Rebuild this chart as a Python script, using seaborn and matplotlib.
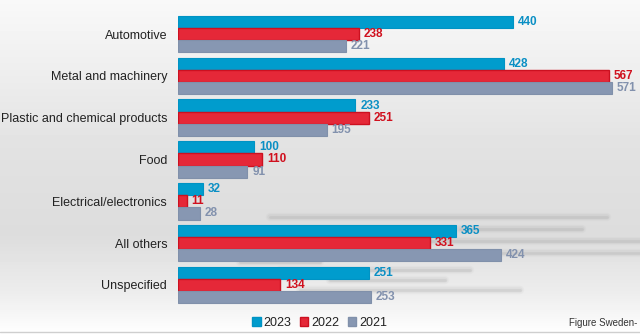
import numpy as np
import pandas as pd
import matplotlib
matplotlib.use("Agg")
import matplotlib.pyplot as plt
from matplotlib.patches import Patch
from matplotlib.lines import Line2D
from matplotlib import font_manager
import seaborn as sns

categories = ["Automotive", "Metal and machinery", "Plastic and chemical products",
              "Food", "Electrical/electronics", "All others", "Unspecified"]
years = ["2023", "2022", "2021"]
values_2023 = [440, 428, 233, 100, 32, 365, 251]
values_2022 = [238, 567, 251, 110, 11, 331, 134]
values_2021 = [221, 571, 195, 91, 28, 424, 253]

bar_colors = {"2023": "#009ccd", "2022": "#e52838", "2021": "#8797b2"}
edge_colors = {"2023": "#0093c4", "2022": "#cc1020", "2021": "#8090aa"}
text_colors = {"2023": "#0a8fc4", "2022": "#d0101e", "2021": "#8291ad"}

df = pd.DataFrame({
    "category": categories * 3,
    "year": [y for y in years for _ in categories],
    "value": values_2023 + values_2022 + values_2021,
})

sns.set_theme(style="white")
plt.rcParams["font.family"] = ["Liberation Sans", "DejaVu Sans"]

installed = {f.name for f in font_manager.fontManager.ttflist}
if "Liberation Sans Narrow" in installed:
    value_font, value_size = ["Liberation Sans Narrow", "Liberation Sans"], 9.5
else:
    value_font, value_size = ["Liberation Sans", "DejaVu Sans"], 8.5

fig = plt.figure(figsize=(6.4, 3.35), dpi=100)

# soft grey vertical gradient behind everything
bg = fig.add_axes([0, 0, 1, 1], zorder=-10)
stops_y = [0.0, 0.15, 0.45, 0.70, 0.88, 1.0]
stops_v = [0.975, 0.945, 0.885, 0.865, 0.93, 1.0]
yy = np.linspace(0, 1, 335)
col = np.interp(yy, stops_y, stops_v)
grad = np.repeat(col[:, None], 8, axis=1)
bg.imshow(grad, cmap="gray", vmin=0, vmax=1, aspect="auto", extent=[0, 1, 1, 0])
bg.set_xlim(0, 1)
bg.set_ylim(1, 0)
bg.axis("off")

# faint blurred streaks in the lower right
streaks = [(217, 270, 607), (229, 460, 582), (241, 430, 640), (253, 440, 640),
           (262, 240, 320), (270, 280, 470), (280, 330, 445), (290, 300, 520)]
for y, x0, x1 in streaks:
    for lw, a in [(6, 0.04), (4, 0.06), (2, 0.10)]:
        bg.add_line(Line2D([x0 / 640, x1 / 640], [y / 335, y / 335],
                           color="#6a6a6a", lw=lw, alpha=a, solid_capstyle="round"))

ax = fig.add_axes([178.3 / 640, 1 - 305.7 / 335, 456 / 640, 292.4 / 335])
ax.patch.set_alpha(0)

sns.barplot(data=df, y="category", x="value", hue="year", hue_order=years,
            palette=bar_colors, orient="h", width=0.875, saturation=1,
            legend=False, ax=ax)

for cont, yr in zip(ax.containers, years):
    for bar in cont:
        bar.set_edgecolor(edge_colors[yr])
        bar.set_linewidth(0.8 if yr != "2022" else 1.0)
    ax.bar_label(cont, fmt="%d", padding=3.5, fontsize=value_size, fontweight="bold",
                 color=text_colors[yr], family=value_font)

ax.set_xlim(0, 600)
ax.set_xlabel("")
ax.set_ylabel("")
ax.set_xticks([])
ax.tick_params(axis="y", length=0, pad=8, labelsize=9, labelcolor="#222222")
for s in ax.spines.values():
    s.set_visible(False)

handles = [Patch(facecolor=bar_colors[y], edgecolor=edge_colors[y], label=y) for y in years]
fig.legend(handles=handles, loc="center", bbox_to_anchor=(0.5, 1 - 323 / 335),
           ncol=3, frameon=False, fontsize=9, handlelength=0.65, handleheight=0.7,
           handletextpad=0.25, columnspacing=0.7, labelcolor="#222222")

fig.text(637 / 640, 1 - 323 / 335, "Figure Sweden-", ha="right", va="center",
         fontsize=7, color="#333333")

bg.add_line(Line2D([0, 1], [332 / 335, 332 / 335], color="#cfcfcf", lw=1))

fig.savefig("out.png", dpi=100)
